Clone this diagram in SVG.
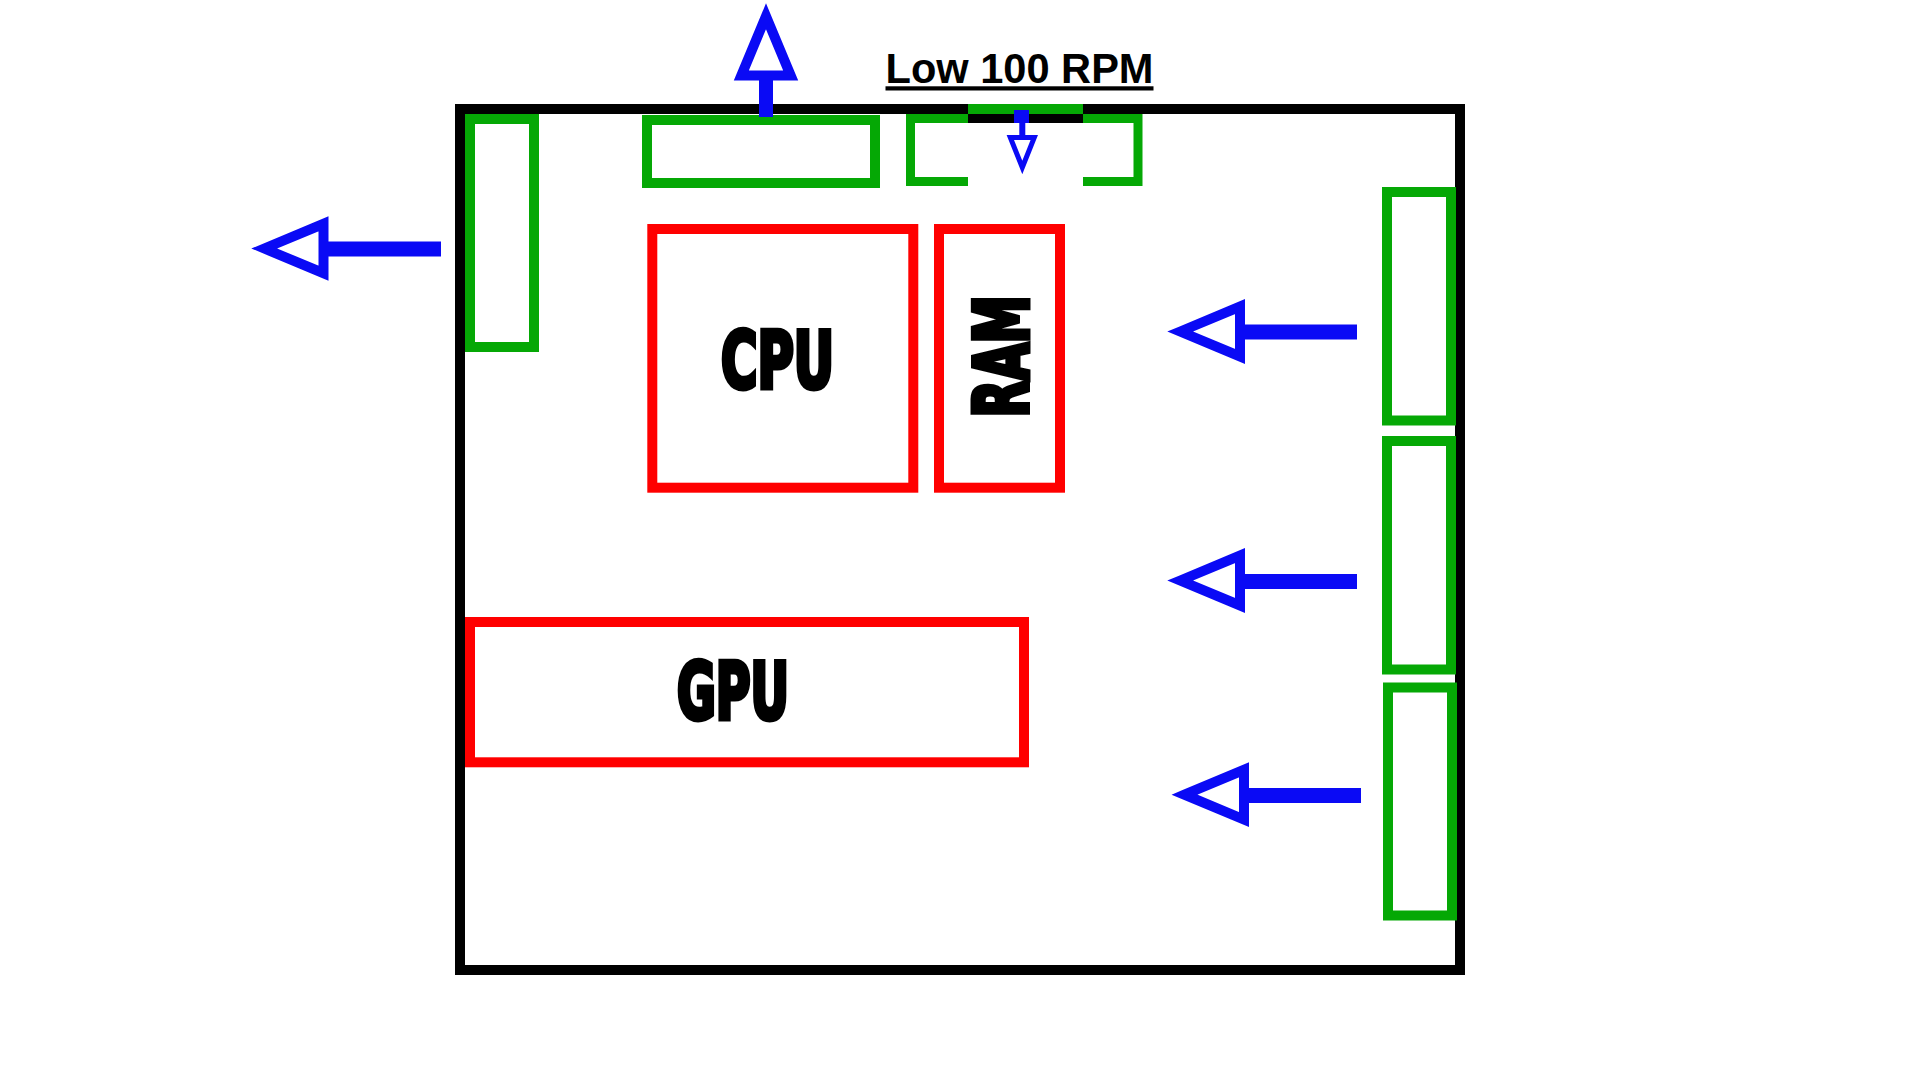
<svg xmlns="http://www.w3.org/2000/svg" width="1920" height="1080" viewBox="0 0 1920 1080">
<style>
.case{fill:none;stroke:#000;stroke-width:10}
.fan{fill:none;stroke:#05A805;stroke-width:10}
.fan9{fill:none;stroke:#05A805;stroke-width:9}
.comp{fill:none;stroke:#FF0000;stroke-width:10}
.big{font-family:"DejaVu Sans","Liberation Sans",sans-serif;font-weight:bold;font-stretch:condensed;fill:#000;stroke:#000;stroke-width:5;stroke-linejoin:miter}
.lbl{font-family:"Liberation Sans",Arial,sans-serif;font-weight:bold;font-size:42px;fill:#000;text-decoration:underline}
.shaft{stroke:#0A0AF5;stroke-width:15;fill:none}
.head{fill:#fff;stroke:#0A0AF5;stroke-width:10;stroke-linejoin:miter;stroke-miterlimit:10}
</style>
<rect width="1920" height="1080" fill="#fff"/>
<g id="case">
<rect class="case" x="460" y="109" width="1000" height="861"/>
</g>
<g id="fan-left-exhaust"><rect class="fan" x="470" y="119" width="64" height="228"/></g>
<g id="fan-top-exhaust"><rect class="fan" x="647" y="120" width="228" height="63"/></g>
<g id="fan-top-intake">
<path class="fan9" d="M968,118.5 H910.5 V181.5 H968"/>
<path class="fan9" d="M1083,118.5 H1138 V181.5 H1083"/>
<rect x="968" y="104" width="115" height="10" fill="#05A805"/>
<rect x="968" y="114" width="115" height="9" fill="#000"/>
</g>
<g id="fan-front-1"><rect class="fan" x="1387" y="192" width="64" height="228.5"/></g>
<g id="fan-front-2"><rect class="fan" x="1387" y="441" width="64" height="228.5"/></g>
<g id="fan-front-3"><rect class="fan" x="1388" y="687.5" width="64" height="228"/></g>
<g id="cpu">
<rect class="comp" x="652.3" y="229" width="261" height="258.7"/>
<text class="big" x="777.5" y="387.5" font-size="78" text-anchor="middle" textLength="113" lengthAdjust="spacingAndGlyphs">CPU</text>
</g>
<g id="ram">
<rect class="comp" x="939" y="229" width="121" height="258.7"/>
<text class="big" transform="translate(1027.5,356.3) rotate(-90)" x="0" y="0" font-size="74" text-anchor="middle" textLength="122" lengthAdjust="spacingAndGlyphs">RAM</text>
</g>
<g id="gpu">
<rect class="comp" x="470" y="622" width="554" height="140.3"/>
<text class="big" x="733" y="719" font-size="78" text-anchor="middle" textLength="112" lengthAdjust="spacingAndGlyphs">GPU</text>
</g>
<g id="label">
<text class="lbl" x="885.5" y="83.3" textLength="268" lengthAdjust="spacingAndGlyphs">Low 100 RPM</text>
</g>
<g id="connectors">
<line class="shaft" x1="323" y1="249" x2="441" y2="249"/>
<polygon class="head" points="264.3,248.5 323.5,223.8 323.5,273.2"/>
<line class="shaft" style="stroke-width:14" x1="766" y1="75" x2="766" y2="117"/>
<polygon class="head" points="766,16.3 741.3,75.5 790.7,75.5"/>
<rect x="1014" y="110" width="15" height="13" fill="#0A0AF5"/>
<line class="shaft" style="stroke-width:6" x1="1022.3" y1="122" x2="1022.3" y2="138"/>
<polygon class="head" style="stroke-width:5" points="1010.3,137.5 1034.3,137.5 1022.3,167.5"/>
<line class="shaft" x1="1240" y1="332" x2="1357" y2="332"/>
<polygon class="head" points="1180.3,331.5 1240,306.6 1240,356.4"/>
<line class="shaft" x1="1240" y1="581.5" x2="1357" y2="581.5"/>
<polygon class="head" points="1180.3,580.5 1240,555.6 1240,605.4"/>
<line class="shaft" x1="1244" y1="795.5" x2="1361" y2="795.5"/>
<polygon class="head" points="1184.5,794.7 1244,769.8 1244,819.6"/>
</g>
</svg>
